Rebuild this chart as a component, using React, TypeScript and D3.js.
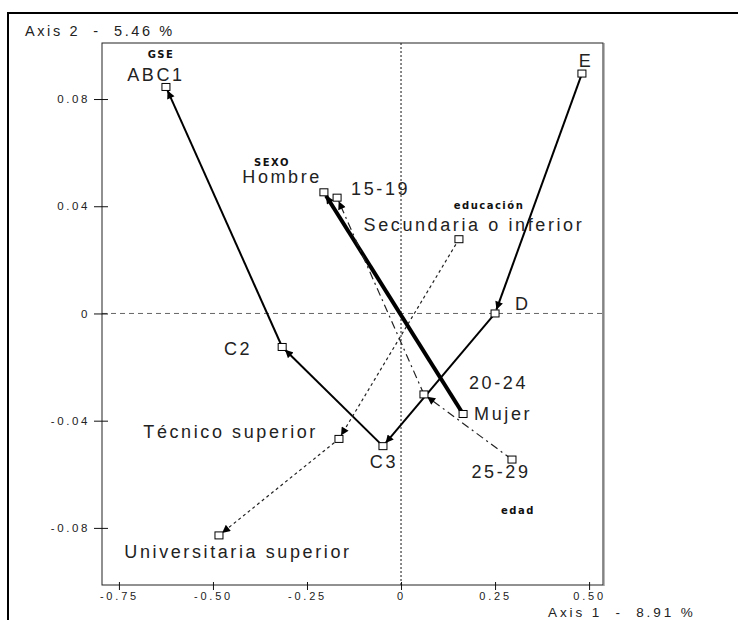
import * as d3 from 'd3'
import { useEffect, useRef } from 'react'

// point coordinates (axis 1, axis 2)
const gseLabels = ['E', 'D', 'C3', 'C2', 'ABC1']
const gseX = [0.481, 0.25, -0.048, -0.316, -0.625]
const gseY = [0.0895, 0.0, -0.0495, -0.0125, 0.0845]

const sexoLabels = ['Mujer', 'Hombre']
const sexoX = [0.165, -0.205]
const sexoY = [-0.0375, 0.0452]

const edadLabels = ['25-29', '20-24', '15-19']
const edadX = [0.295, 0.061, -0.17]
const edadY = [-0.0545, -0.0302, 0.0432]

const educLabels = ['Secundaria o inferior', 'Técnico superior', 'Universitaria superior']
const educX = [0.154, -0.165, -0.484]
const educY = [0.0277, -0.0468, -0.0828]

const xTicks = [-0.75, -0.5, -0.25, 0, 0.25, 0.5]
const xTickLabels = ['-0.75', '-0.50', '-0.25', '0', '0.25', '0.50']
const yTicks = [0.08, 0.04, 0, -0.04, -0.08]
const yTickLabels = ['0.08', '0.04', '0', '-0.04', '-0.08']

const axis1Title = 'Axis 1  -  8.91 %'
const axis2Title = 'Axis 2  -  5.46 %'

// label placement (px offsets from the point)
const labelPos: Record<string, [number, number, string]> = {
  'E': [4, -7, 'middle'],
  'D': [20, -3, 'start'],
  'C3': [1, 22, 'middle'],
  'C2': [-30, 8, 'end'],
  'ABC1': [-10, -6, 'middle'],
  'Mujer': [11, 6, 'start'],
  'Hombre': [-2, -9, 'end'],
  '25-29': [-11, 18, 'middle'],
  '20-24': [45, -5, 'start'],
  '15-19': [14, -3, 'start'],
  'Secundaria o inferior': [15, -8, 'middle'],
  'Técnico superior': [-21, -1, 'end'],
  'Universitaria superior': [19, 23, 'middle'],
}

const groups = [
  { name: 'GSE', labels: gseLabels, xs: gseX, ys: gseY, width: 2, dash: null, title: [161, 58] },
  { name: 'SEXO', labels: sexoLabels, xs: sexoX, ys: sexoY, width: 4, dash: null, title: [272, 166] },
  { name: 'edad', labels: edadLabels, xs: edadX, ys: edadY, width: 1.2, dash: '8 4 2 4', title: [518, 514] },
  { name: 'educación', labels: educLabels, xs: educX, ys: educY, width: 1.2, dash: '3 3', title: [489, 209] },
]

const W = 738
const H = 620
const left = 102, right = 603, top = 43, bottom = 585

const x = d3.scaleLinear().domain([-0.795, 0.537]).range([left, right])
const y = d3.scaleLinear().domain([-0.1013, 0.1009]).range([bottom, top])

const font = '"Liberation Sans", Arial, sans-serif'

export default function App() {
  const ref = useRef<SVGSVGElement>(null)

  useEffect(() => {
    const svg = d3.select(ref.current)
    const xAxis = d3.axisBottom(x).tickValues(xTicks).tickFormat((_, i) => xTickLabels[i]).tickSize(5).tickSizeOuter(0)
    const yAxis = d3.axisLeft(y).tickValues(yTicks).tickFormat((_, i) => yTickLabels[i]).tickSize(8).tickSizeOuter(0)

    svg.select<SVGGElement>('.x-axis')
      .attr('transform', `translate(0,${bottom})`)
      .call(xAxis)
      .call(g => g.select('.domain').remove())
      .call(g => g.selectAll('.tick line').attr('y1', -3).attr('stroke', '#111'))
      .call(g => g.selectAll('.tick text').attr('y', 7).attr('font-size', 11).attr('font-family', font)
        .attr('letter-spacing', 2.8).attr('fill', '#222'))

    svg.select<SVGGElement>('.y-axis')
      .attr('transform', `translate(${left},0)`)
      .call(yAxis)
      .call(g => g.select('.domain').remove())
      .call(g => g.selectAll('.tick line').attr('x1', -8).attr('x2', 6).attr('stroke', '#111'))
      .call(g => g.selectAll('.tick text').attr('x', -12).attr('font-size', 11.5).attr('font-family', font)
        .attr('letter-spacing', 2.6).attr('fill', '#222'))
  }, [])

  const segs: any[] = []
  groups.forEach(gr => {
    for (let i = 0; i < gr.labels.length - 1; i++) {
      const x1 = x(gr.xs[i]), y1 = y(gr.ys[i])
      const x2 = x(gr.xs[i + 1]), y2 = y(gr.ys[i + 1])
      const len = Math.hypot(x2 - x1, y2 - y1)
      const k = (len - 4) / len
      segs.push({ key: gr.name + i, x1, y1, x2: x1 + (x2 - x1) * k, y2: y1 + (y2 - y1) * k, gr })
    }
  })

  return (
    <svg ref={ref} width={W} height={H} style={{ position: 'absolute', left: 0, top: 0, background: '#fff' }}
      fontFamily={font}>
      <defs>
        <marker id="arr" viewBox="0 0 10 10" refX="10" refY="5" markerWidth="9" markerHeight="8"
          markerUnits="userSpaceOnUse" orient="auto">
          <path d="M0,0 L10,5 L0,10 Z" fill="#000" />
        </marker>
      </defs>
      {/* outer frame */}
      <rect x={8} y={13} width={800} height={700} fill="none" stroke="#000" strokeWidth={2} />

      {/* zero reference lines */}
      <line x1={x(0)} x2={x(0)} y1={top} y2={bottom} stroke="#111" strokeDasharray="2 2" />
      <line x1={left} x2={right} y1={y(0)} y2={y(0)} stroke="#666" strokeDasharray="5 4" />

      {/* plot box */}
      <rect x={left} y={top} width={right - left} height={bottom - top} fill="none" stroke="#222" strokeWidth={1} />
      <line x1={right + 1} x2={right + 1} y1={top} y2={bottom + 1} stroke="#777" strokeWidth={1} />

      <g className="x-axis" />
      <g className="y-axis" />

      {segs.map(s => (
        <line key={s.key} x1={s.x1} y1={s.y1} x2={s.x2} y2={s.y2} stroke={s.gr.width < 2 ? '#222' : '#000'}
          strokeWidth={s.gr.width} strokeDasharray={s.gr.dash ?? undefined} markerEnd="url(#arr)" />
      ))}

      {groups.map(gr => gr.labels.map((lab, i) => {
        const px = x(gr.xs[i]), py = y(gr.ys[i])
        const [dx, dy, anchor] = labelPos[lab]
        return (
          <g key={lab}>
            <rect x={px - 4} y={py - 3.5} width={8} height={7} fill="#fff" stroke="#000" strokeWidth={1} />
            <text x={px + dx} y={py + dy} textAnchor={anchor} fontSize={18} letterSpacing={2.6} fill="#222">{lab}</text>
          </g>
        )
      }))}

      {groups.map(gr => (
        <text key={gr.name} x={gr.title[0]} y={gr.title[1]} textAnchor="middle" fontSize={10}
          fontWeight="bold" letterSpacing={1.5} fontFamily='"DejaVu Sans", sans-serif' fill="#111">{gr.name}</text>
      ))}

      <text x={25} y={36} fontSize={14.5} letterSpacing={2.6} fill="#222" style={{ whiteSpace: 'pre' }}>{axis2Title}</text>
      <text x={548} y={617} fontSize={13.5} letterSpacing={2.9} fill="#222" style={{ whiteSpace: 'pre' }}>{axis1Title}</text>
    </svg>
  )
}
